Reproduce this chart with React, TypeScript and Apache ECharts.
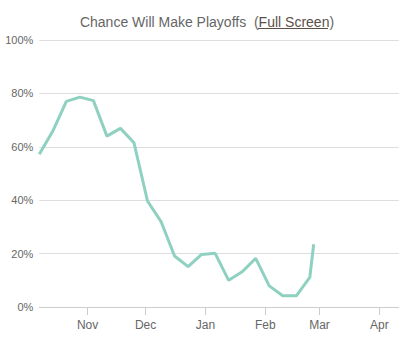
import React, { useEffect, useRef } from "react";
import * as echarts from "echarts";

const dates: string[] = [
  "2014-10-07", "2014-10-14", "2014-10-21", "2014-10-28",
  "2014-11-04", "2014-11-11", "2014-11-18", "2014-11-25",
  "2014-12-02", "2014-12-09", "2014-12-16", "2014-12-23", "2014-12-30",
  "2015-01-06", "2015-01-13", "2015-01-20", "2015-01-27",
  "2015-02-03", "2015-02-10", "2015-02-17", "2015-02-24", "2015-02-26",
];
const chance: number[] = [
  57.2, 65.9, 77.0, 78.6, 77.3, 64.0, 66.9, 61.5, 39.7, 32.0, 19.1,
  15.1, 19.7, 20.1, 10.0, 13.2, 18.2, 7.9, 4.2, 4.2, 11.1, 23.5,
];
const monthLabels: string[] = [
  "Jan", "Feb", "Mar", "Apr", "May", "Jun",
  "Jul", "Aug", "Sep", "Oct", "Nov", "Dec",
];
const axisStart = "2014-10-07";
const axisEnd = "2015-04-11";

function toTime(s: string): number {
  const [y, m, d] = s.split("-").map(Number);
  return new Date(y, m - 1, d).getTime();
}

export default function App() {
  const ref = useRef<HTMLDivElement>(null);
  useEffect(() => {
    if (!ref.current) return;
    const chart = echarts.init(ref.current, undefined, { renderer: "svg" });
    const font = "'Liberation Sans', Arial, sans-serif";
    chart.setOption({
      animation: false,
      backgroundColor: "#fff",
      graphic: [
        {
          type: "text",
          left: "center",
          top: 15,
          style: {
            text: "{a|Chance Will Make Playoffs  (}{b|Full Screen}{a|)}",
            fill: "#666",
            rich: {
              a: { fontSize: 14, fill: "#666", fontFamily: font, fontWeight: "normal" },
              b: { fontSize: 14, fill: "#5a5048", fontFamily: font, fontWeight: "normal" },
            },
          },
        },
        {
          type: "line",
          shape: { x1: 258, y1: 28.5, x2: 328, y2: 28.5 },
          style: { stroke: "#5a5048", lineWidth: 1 },
        },
      ],
      grid: { left: 39.3, right: 15.3, top: 40, bottom: 52, containLabel: false },
      xAxis: {
        type: "time",
        min: toTime(axisStart),
        max: toTime(axisEnd),
        splitNumber: 6,
        minInterval: 28 * 86400000,
        axisLine: { show: true, lineStyle: { color: "#ccc", width: 1 } },
        axisTick: { show: true, length: 8, lineStyle: { color: "#ccc" } },
        splitLine: { show: false },
        axisLabel: {
          color: "#666",
          fontSize: 12,
          fontFamily: font,
          margin: 12,
          showMinLabel: false,
          showMaxLabel: false,
          formatter: (v: number) => monthLabels[new Date(v).getMonth()],
        },
      },
      yAxis: {
        type: "value",
        min: 0,
        max: 100,
        interval: 20,
        axisLine: { show: false },
        axisTick: { show: false },
        splitLine: { lineStyle: { color: "#ddd", width: 1 } },
        axisLabel: {
          color: "#666",
          fontSize: 11,
          fontFamily: font,
          margin: 6,
          formatter: "{value}%",
        },
      },
      series: [
        {
          type: "line",
          data: dates.map((d, i) => [toTime(d), chance[i]]),
          showSymbol: false,
          symbol: "none",
          lineStyle: { color: "#8fd1c0", width: 3 },
          itemStyle: { color: "#8fd1c0" },
        },
      ],
    });
    return () => chart.dispose();
  }, []);
  return <div ref={ref} style={{ width: 414, height: 359, position: "absolute", left: 0, top: 0 }} />;
}
